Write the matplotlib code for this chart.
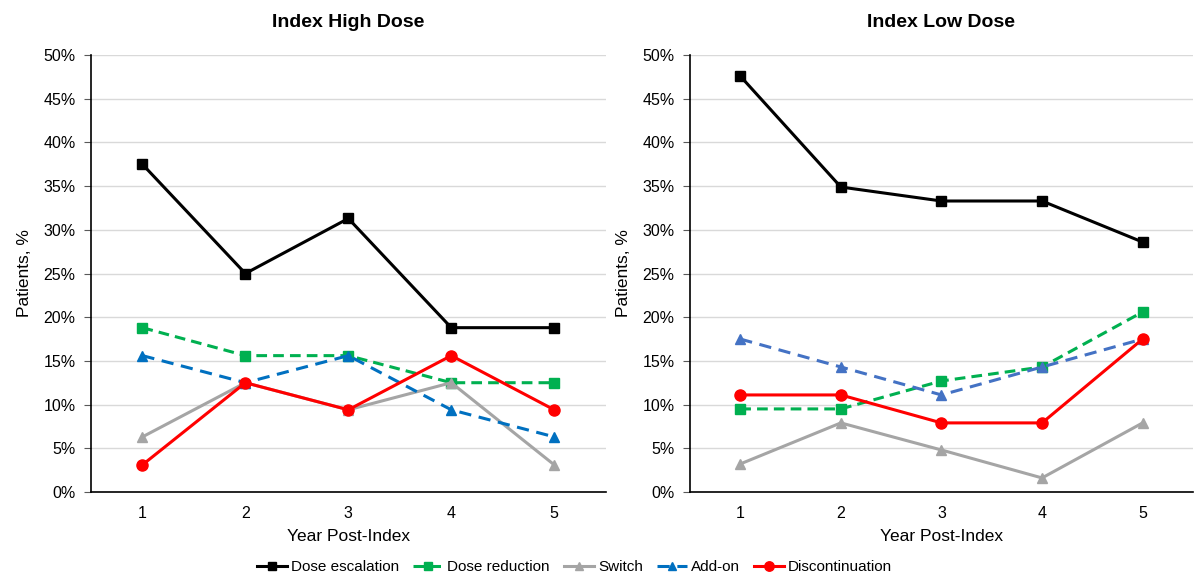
import matplotlib.pyplot as plt
from matplotlib.ticker import FuncFormatter

plt.rcParams['font.family'] = ['Liberation Sans', 'DejaVu Sans']

years = [1, 2, 3, 4, 5]

high_escalation = [37.5, 25.0, 31.3, 18.8, 18.8]
high_reduction = [18.8, 15.6, 15.6, 12.5, 12.5]
high_switch = [6.3, 12.5, 9.4, 12.5, 3.1]
high_addon = [15.6, 12.5, 15.6, 9.4, 6.3]
high_discont = [3.1, 12.5, 9.4, 15.6, 9.4]

low_escalation = [47.6, 34.9, 33.3, 33.3, 28.6]
low_reduction = [9.5, 9.5, 12.7, 14.3, 20.6]
low_switch = [3.2, 7.9, 4.8, 1.6, 7.9]
low_addon = [17.5, 14.3, 11.1, 14.3, 17.5]
low_discont = [11.1, 11.1, 7.9, 7.9, 17.5]

labels = ["Dose escalation", "Dose reduction", "Switch", "Add-on", "Discontinuation"]


def draw_panel(ax, title, series, addon_color):
    esc, red, sw, add, dis = series
    ax.plot(years, esc, color="black", lw=2.2, marker="s", ms=7, label=labels[0], zorder=3)
    ax.plot(years, red, color="#00B050", lw=2.2, ls=(0, (3.5, 2)), marker="s", ms=7,
            label=labels[1], zorder=3)
    ax.plot(years, sw, color="#A5A5A5", lw=2.2, marker="^", ms=7, label=labels[2], zorder=3)
    ax.plot(years, add, color=addon_color, lw=2.2, ls=(0, (4, 2.5)), marker="^", ms=7,
            label=labels[3], zorder=3)
    ax.plot(years, dis, color="#FF0000", lw=2.2, marker="o", ms=8, label=labels[4], zorder=4)

    ax.set_xlim(0.5, 5.5)
    ax.set_ylim(0, 50)
    ax.set_yticks(range(0, 51, 5))
    ax.set_xticks(years)
    ax.yaxis.set_major_formatter(FuncFormatter(lambda v, p: f"{int(v)}%"))
    ax.grid(axis="y", color="#D9D9D9", lw=1)
    ax.set_axisbelow(True)
    for s in ["top", "right"]:
        ax.spines[s].set_visible(False)
    ax.spines["left"].set_linewidth(1.2)
    ax.spines["bottom"].set_linewidth(1.2)
    ax.tick_params(axis="y", length=5, color="#595959", labelsize=11.5, pad=6)
    ax.tick_params(axis="x", length=0, labelsize=11.5, pad=10)
    ax.set_title(title, fontsize=14, fontweight="bold", pad=20)
    ax.set_xlabel("Year Post-Index", fontsize=12.5, labelpad=6)
    ax.set_ylabel("Patients, %", fontsize=12.5, labelpad=8)


fig = plt.figure(figsize=(11.97, 5.74), dpi=100)
ax1 = fig.add_axes([0.076, 0.143, 0.430, 0.761])
ax2 = fig.add_axes([0.5764, 0.143, 0.4202, 0.761])

draw_panel(ax1, "Index High Dose",
           [high_escalation, high_reduction, high_switch, high_addon, high_discont], "#0070C0")
draw_panel(ax2, "Index Low Dose",
           [low_escalation, low_reduction, low_switch, low_addon, low_discont], "#4472C4")

handles, lbls = ax1.get_legend_handles_labels()
fig.legend(handles, lbls, loc="center", bbox_to_anchor=(0.48, 0.012), ncol=5, frameon=False,
           fontsize=11, handlelength=2.0, handletextpad=0.25, columnspacing=0.9, markerscale=0.85)

plt.savefig("out.png", dpi=100)
plt.close()
